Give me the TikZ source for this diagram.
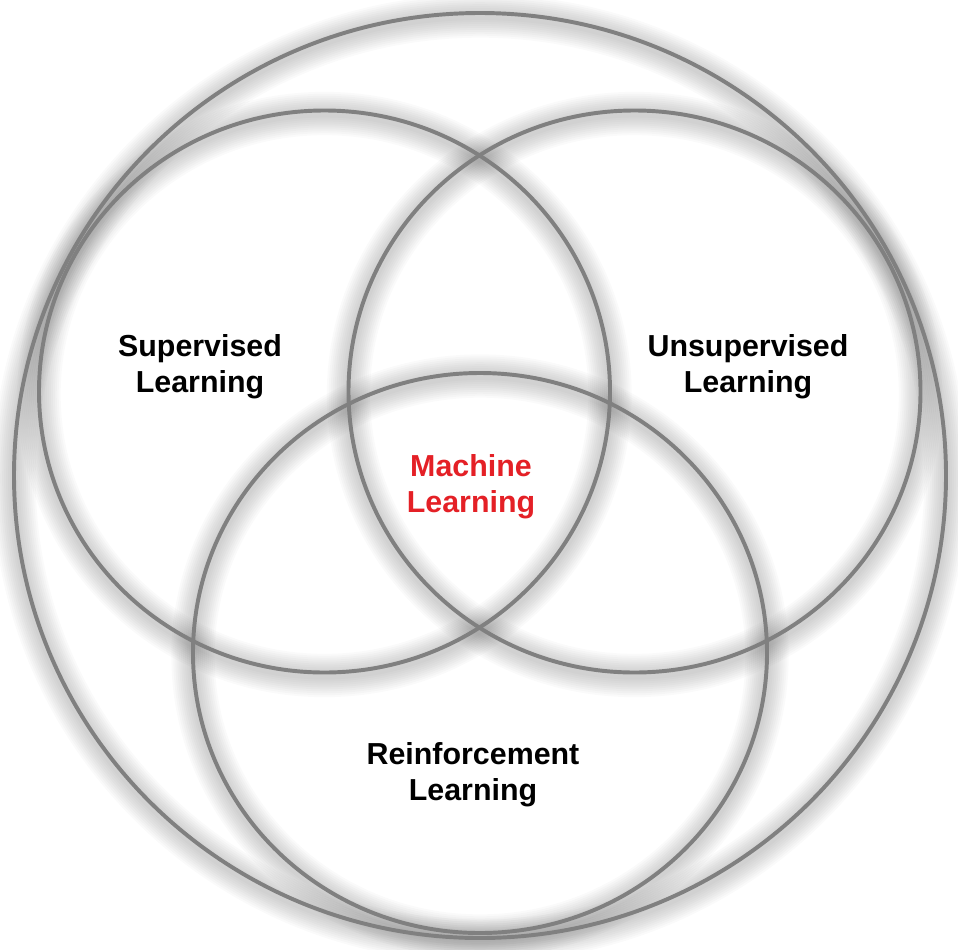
\documentclass[tikz,border=0pt]{standalone}
\usepackage{fontspec}
\setmainfont{Liberation Sans}
\definecolor{ringgray}{RGB}{128,128,128}
\definecolor{mlred}{RGB}{228,32,38}

\begin{document}
\begin{tikzpicture}[
  x=0.025cm, y=-0.025cm,
  ring/.style={draw=ringgray, line width=2.8pt},
  halo/.style={draw=black, opacity=0.018},
  areatext/.style={font=\fontsize{21.6}{25.6}\selectfont\bfseries, align=center, inner sep=0pt}
]
\useasboundingbox (0,0) rectangle (958,949);

% ---------- soft shadow under the rings ----------
\foreach \cx/\cy/\rx/\ry in {480/475.5/466/462.5, 324.5/391.5/285.5/281, 634.5/391.5/286/281, 480/653/287/280}{
  \foreach \w in {44,40,...,8}
    \draw[halo, line width=\w*0.7pt] (\cx,\cy+3) ellipse [x radius=\rx, y radius=\ry];
}

% ---------- rings ----------
\draw[ring] (480,475.5)   ellipse [x radius=466, y radius=462.5];
\draw[ring] (324.5,391.5) ellipse [x radius=285.5, y radius=281];
\draw[ring] (634.5,391.5) ellipse [x radius=286, y radius=281];
\draw[ring] (480,653)     ellipse [x radius=287, y radius=280];

% ---------- labels ----------
\node[areatext] (sup)   at (200,367) {Supervised\\Learning};
\node[areatext] (unsup) at (748,367) {Unsupervised\\Learning};
\node[areatext, text=mlred] (ml) at (471,487) {Machine\\Learning};
\node[areatext] (rl)    at (473,775) {Reinforcement\\Learning};

\end{tikzpicture}
\end{document}
